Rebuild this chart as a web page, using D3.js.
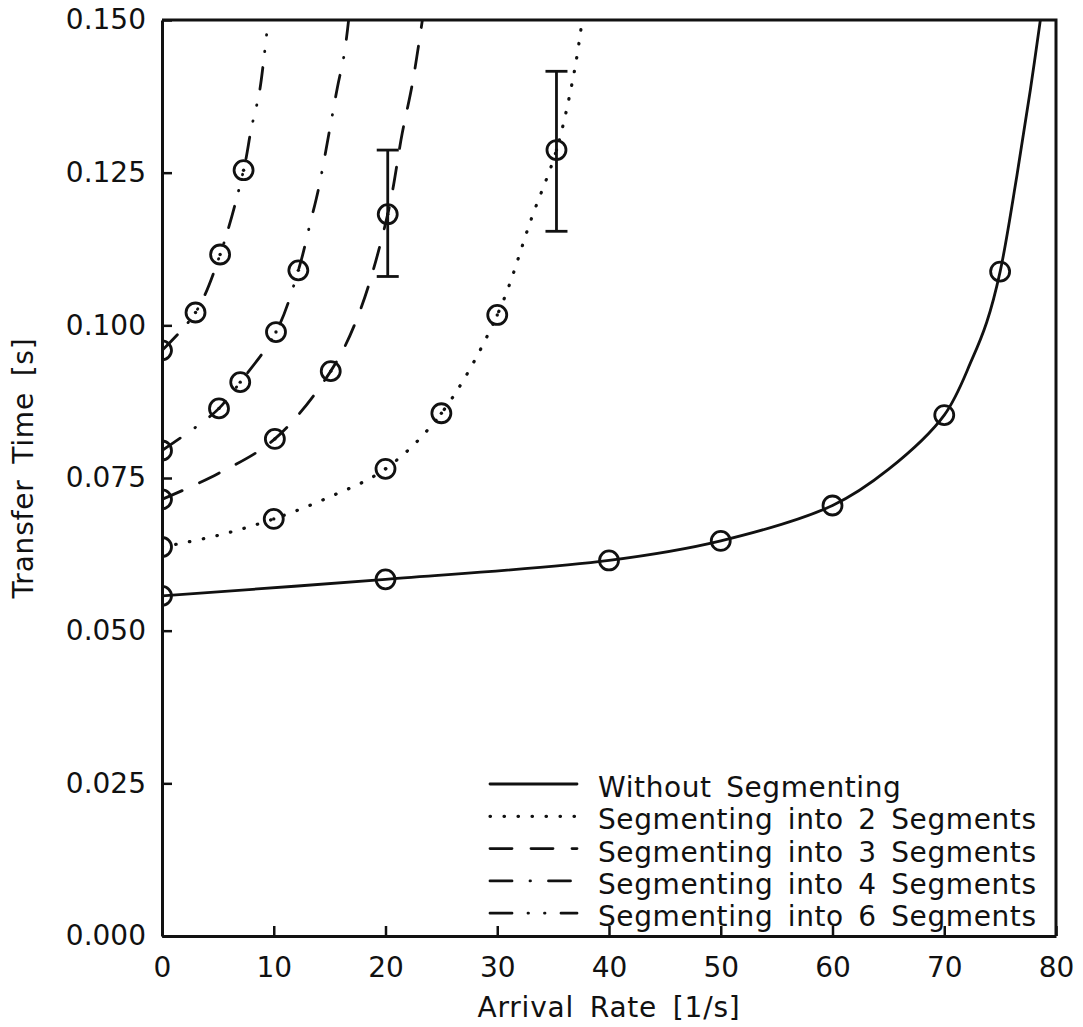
<!DOCTYPE html>
<html>
<head>
<meta charset="utf-8">
<script src="https://cdn.jsdelivr.net/npm/d3@7"></script>
<style>
  body { margin: 0; background: #fff; }
  svg { display: block; }
  text { font-family: "DejaVu Sans", sans-serif; font-size: 28px; fill: #111; }
</style>
</head>
<body>
<svg id="chart" width="1083" height="1027"></svg>
<script>
// axis ticks
const xTicks = [0, 10, 20, 30, 40, 50, 60, 70, 80]
const yTicks = [0, 0.025, 0.05, 0.075, 0.1, 0.125, 0.15]

const seriesNames = [
  'Without Segmenting',
  'Segmenting into 2 Segments',
  'Segmenting into 3 Segments',
  'Segmenting into 4 Segments',
  'Segmenting into 6 Segments'
]

// measured points (circles), [arrival rate, transfer time]
const pts1 = [[0, 0.0557], [20, 0.0584], [40, 0.0615], [50, 0.0647], [60, 0.0705], [70, 0.0853], [75, 0.1088]]
const pts2 = [[0, 0.0637], [10, 0.0683], [20, 0.0765], [25, 0.0856], [30, 0.1017], [35.3, 0.1287]]
const pts3 = [[0, 0.0715], [10.1, 0.0814], [15.1, 0.0925], [20.2, 0.1182]]
const pts4 = [[0, 0.0795], [5.1, 0.0864], [7.0, 0.0907], [10.2, 0.0989], [12.2, 0.109]]
const pts6 = [[0, 0.0959], [3.0, 0.1021], [5.2, 0.1116], [7.3, 0.1254]]

// analytic curves
const curve1 = [[0, 0.0557], [20, 0.0584], [40, 0.0615], [50, 0.0647], [60, 0.0705], [65, 0.0764], [70, 0.0853], [72.5, 0.0945], [73.8, 0.1005], [75, 0.1088], [76.5, 0.1245], [77.7, 0.1385], [78.6, 0.15]]
const curve2 = [[0, 0.0637], [5, 0.0656], [10, 0.0683], [15, 0.0719], [20, 0.0765], [25, 0.0856], [30, 0.1017], [33.1, 0.1177], [35.3, 0.1287], [36.9, 0.1416], [37.6, 0.15]]
const curve3 = [[0, 0.0715], [5, 0.0757], [10.1, 0.0814], [15.1, 0.0925], [17.6, 0.1018], [20.2, 0.1182], [21.5, 0.1315], [22.4, 0.1395], [23.3, 0.15]]
const curve4 = [[0, 0.0795], [3.3, 0.0837], [5.1, 0.0864], [7.0, 0.0907], [10.2, 0.0989], [12.2, 0.109], [13.3, 0.117], [14.0, 0.1223], [15.1, 0.133], [15.7, 0.139], [16.3, 0.1443], [16.7, 0.15]]
const curve6 = [[0, 0.0959], [3.0, 0.1021], [5.2, 0.1116], [7.3, 0.1254], [8.0, 0.1323], [8.7, 0.138], [9.1, 0.1434], [9.5, 0.15]]

// error bars: [x, low, high]
const errorBars = [[20.2, 0.108, 0.1287], [35.3, 0.1154, 0.1416]]

const dashes = ['none', '0.5,13.5', '22,19', '22,18,0.5,18', '22,16,0.5,16,0.5,16']

const margin = {left: 162, right: 1056, top: 20, bottom: 936}

let svg = d3.select('#chart')

let x = d3.scaleLinear().domain([0, 80]).range([margin.left, margin.right])
let y = d3.scaleLinear().domain([0, 0.15]).range([margin.bottom, margin.top])

svg.append('defs').append('clipPath').attr('id', 'plotClip')
  .append('rect')
  .attr('x', margin.left).attr('y', margin.top)
  .attr('width', margin.right - margin.left)
  .attr('height', margin.bottom - margin.top)

// axes
let xAxis = d3.axisBottom(x).tickValues(xTicks).tickSizeInner(-10).tickSizeOuter(0).tickPadding(21)
let yAxis = d3.axisLeft(y).tickValues(yTicks).tickSizeInner(-10).tickSizeOuter(0).tickPadding(16)
  .tickFormat(d3.format('.3f'))

let gx = svg.append('g').attr('transform', `translate(0,${margin.bottom})`).call(xAxis)
let gy = svg.append('g').attr('transform', `translate(${margin.left},0)`).call(yAxis)

;[gx, gy].forEach(g => {
  g.selectAll('path.domain').attr('stroke', '#111').attr('stroke-width', 3)
  g.selectAll('.tick line').attr('stroke', '#111').attr('stroke-width', 2.5)
  g.selectAll('.tick text').attr('fill', '#111').style('font-size', '28px').style('font-family', '"DejaVu Sans", sans-serif')
})

// top and right frame lines
svg.append('path')
  .attr('d', `M${margin.left},${margin.top}H${margin.right}V${margin.bottom}`)
  .attr('fill', 'none').attr('stroke', '#111').attr('stroke-width', 3)

let plot = svg.append('g').attr('clip-path', 'url(#plotClip)')

let line = d3.line()
  .x(d => x(d[0]))
  .y(d => y(d[1]))
  .curve(d3.curveCatmullRom.alpha(0.5))

let curves = [curve1, curve2, curve3, curve4, curve6]
let points = [pts1, pts2, pts3, pts4, pts6]

curves.forEach((c, i) => {
  plot.append('path')
    .datum(c)
    .attr('d', line)
    .attr('fill', 'none')
    .attr('stroke', '#111')
    .attr('stroke-width', i === 1 ? 3.2 : 2.8)
    .attr('stroke-linecap', 'round')
    .attr('stroke-dasharray', dashes[i])
})

// error bars
errorBars.forEach(e => {
  let g = plot.append('g').attr('stroke', '#111').attr('stroke-width', 2.8)
  g.append('line').attr('x1', x(e[0])).attr('x2', x(e[0])).attr('y1', y(e[1])).attr('y2', y(e[2]))
  g.append('line').attr('x1', x(e[0]) - 11).attr('x2', x(e[0]) + 11).attr('y1', y(e[1])).attr('y2', y(e[1]))
  g.append('line').attr('x1', x(e[0]) - 11).attr('x2', x(e[0]) + 11).attr('y1', y(e[2])).attr('y2', y(e[2]))
})

// markers
points.forEach((p, i) => {
  plot.selectAll(null)
    .data(p)
    .enter().append('circle')
    .attr('cx', d => x(d[0]))
    .attr('cy', d => y(d[1]))
    .attr('r', 9.5)
    .attr('fill', 'none')
    .attr('stroke', '#111')
    .attr('stroke-width', 2.8)
  if (i > 0) {
    plot.selectAll(null)
      .data(p.filter(d => d[0] > 0))
      .enter().append('circle')
      .attr('cx', d => x(d[0]))
      .attr('cy', d => y(d[1]))
      .attr('r', 1.7)
      .attr('fill', '#111')
  }
})

// legend
let legend = svg.append('g')
seriesNames.forEach((name, i) => {
  let cy = 787 + i * 32.3
  legend.append('line')
    .attr('x1', 490).attr('x2', 577)
    .attr('y1', cy - 3).attr('y2', cy - 3)
    .attr('stroke', '#111')
    .attr('stroke-width', i === 1 ? 3.2 : 2.8)
    .attr('stroke-linecap', 'round')
    .attr('stroke-dasharray', dashes[i])
  legend.append('text')
    .attr('x', 598)
    .attr('y', cy + 10)
    .style('letter-spacing', '0.6px')
    .style('word-spacing', '5px')
    .text(name)
})

// axis titles
svg.append('text')
  .attr('x', 609).attr('y', 1017)
  .attr('text-anchor', 'middle')
  .style('letter-spacing', '0.8px')
  .style('word-spacing', '6px')
  .text('Arrival Rate [1/s]')

svg.append('text')
  .attr('transform', 'translate(33,468) rotate(-90)')
  .attr('text-anchor', 'middle')
  .style('letter-spacing', '0.8px')
  .style('word-spacing', '6px')
  .text('Transfer Time [s]')
</script>
</body>
</html>
